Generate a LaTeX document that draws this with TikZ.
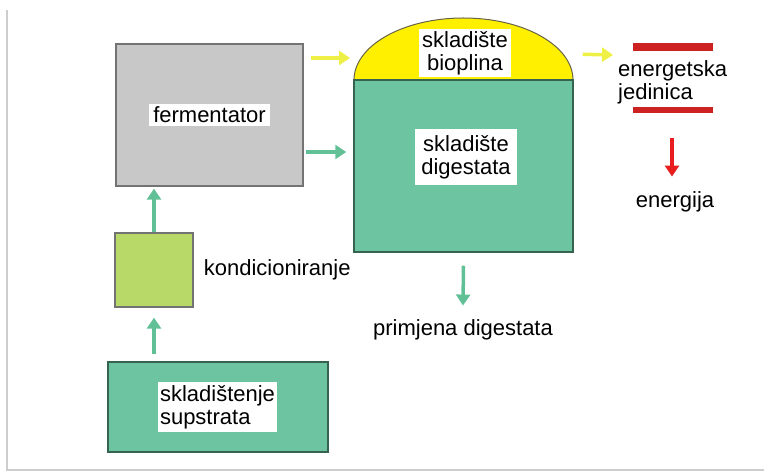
\documentclass[tikz,border=0pt]{standalone}
\usepackage{fontspec}
\setmainfont{Liberation Sans}
\usetikzlibrary{arrows.meta,positioning,calc}
\definecolor{fermgray}{RGB}{200,200,200}
\definecolor{digteal}{RGB}{108,196,160}
\definecolor{condgreen}{RGB}{184,216,104}
\definecolor{gasyellow}{RGB}{255,240,0}
\definecolor{arryellow}{RGB}{238,240,70}
\definecolor{arrteal}{RGB}{98,192,150}
\definecolor{barred}{RGB}{204,34,34}
\definecolor{arrred}{RGB}{232,30,30}
\definecolor{framegray}{RGB}{205,205,205}
\tikzset{
  txt/.style={font=\fontsize{22}{23}\selectfont, inner sep=3pt},
  lbl/.style={txt, fill=white, align=center},
  flow/.style={line width=3.5pt, -{Triangle[width=14pt,length=11pt]}},
}
\begin{document}
\begin{tikzpicture}[x=1pt,y=1pt]
    \useasboundingbox (0,0) rectangle (764,474);
    \draw[framegray, line width=1.5pt] (7,464)--(7,4)--(764,4);
    % boxes
    \node[draw=black!55, fill=fermgray, line width=1.3pt, minimum width=187pt, minimum height=142pt] (ferm) at (209.5,359) {};
    \node[draw=black!55, fill=condgreen, line width=1.3pt, minimum width=78pt, minimum height=74pt] (cond) at (154,204) {};
    \node[draw=digteal!50!black, fill=digteal, line width=1.5pt, minimum width=220pt, minimum height=90pt] (supst) at (218,67) {};
    \fill[gasyellow] (354,394) arc[start angle=180, end angle=0, x radius=109.5, y radius=62] -- cycle;
    \draw[black!60!yellow!80!black, line width=1pt] (354,394) arc[start angle=180, end angle=0, x radius=109.5, y radius=62];
    \node[draw=digteal!50!black, fill=digteal, line width=1.5pt, minimum width=219pt, minimum height=172pt] (dig) at (463.5,308) {};
    \coordinate (dome) at (361,416);
    % labels
    \node[lbl, inner xsep=4pt] (fermlbl) at (ferm) {fermentator};
    \node[lbl, inner xsep=3.5pt, inner ysep=2pt] (gaslbl) at (465,421) {skladište\\bioplina};
    \node[lbl, inner xsep=6pt, inner ysep=6pt] (diglbl) at (466,317) {skladište\\digestata};
    \node[lbl, align=left, inner xsep=2pt, inner ysep=3pt] (suplbl) at (217.5,67) {skladištenje\\supstrata};
    \node[txt, right=7pt of cond] (condlbl) {kondicioniranje};
    \node[txt] (prim) at (463,144) {primjena digestata};
    \node[txt, align=left, anchor=west] (unit) at (615,392) {energetska\\jedinica};
    \node[txt] (energ) at (675,272) {energija};
    \fill[barred] (633,423) rectangle (713,431);
    \fill[barred] (633,361) rectangle (713,367);
    % flows
    \coordinate (fermout) at ($(ferm.east)+(2,-37)$);
    \draw[flow, arrteal] ([yshift=7pt]cond.south |- supst.north) -- ([yshift=-10pt]cond.south);
    \draw[flow, arrteal] (cond.north) -- ([yshift=-2pt]cond.north |- ferm.south);
    \draw[flow, arrteal] (fermout) -- ([xshift=-7pt]dig.west |- fermout);
    \draw[flow, arryellow] ($(ferm.east)+(7,57)$) -- ($(dome)+(-11,0)$);
    \draw[flow, arryellow] ($(dig.north east)+(9,25)$) -- ($(unit.west)+(-2,27)$);
    \draw[flow, arrteal] ([yshift=-13pt]dig.south) -- ([yshift=11pt]prim.north);
    \draw[flow, arrred] (672,336) -- ([yshift=12pt]energ.north -| 672,0);
\end{tikzpicture}
\end{document}
